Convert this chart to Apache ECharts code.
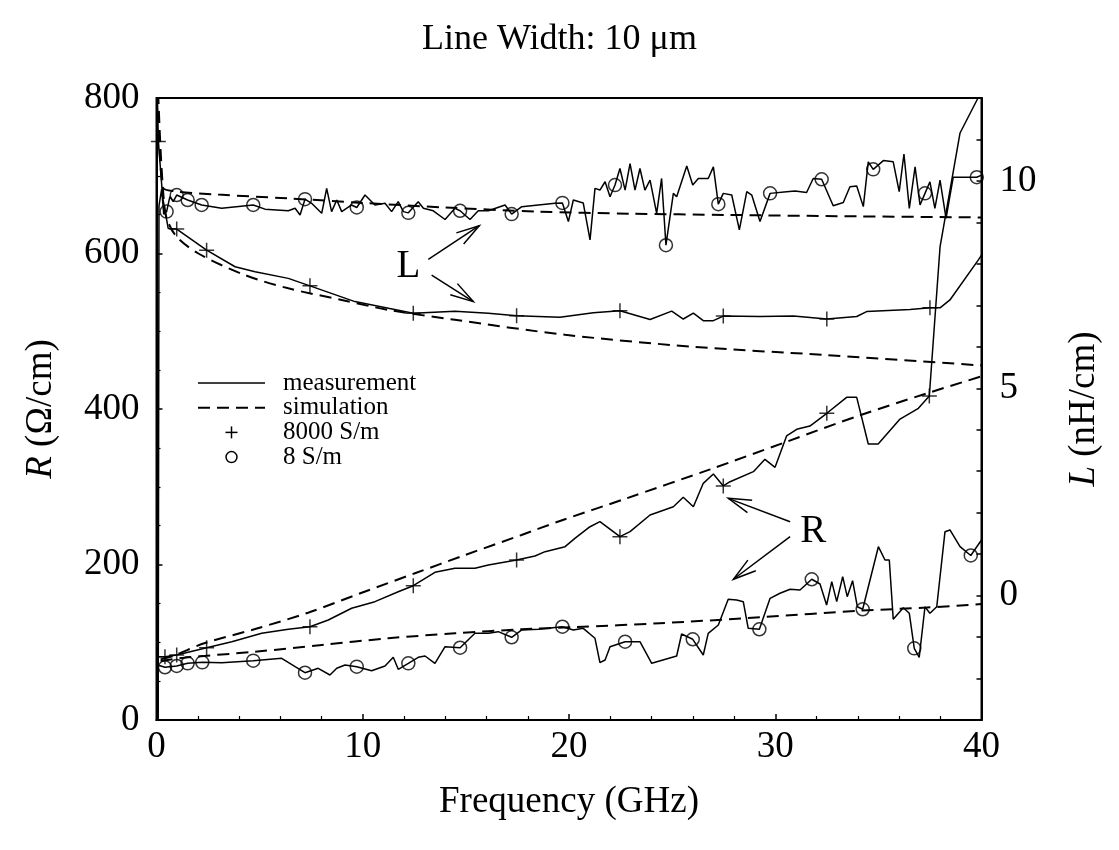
<!DOCTYPE html>
<html><head><meta charset="utf-8">
<script src="https://cdn.jsdelivr.net/npm/echarts@6/dist/echarts.min.js"></script>
<style>html,body{margin:0;padding:0;background:#fff}#c{width:1119px;height:850px}</style>
</head><body><div id="c"></div>
<script>
const titleText = 'Line Width: 10 μm';
const xTickLabels = [0, 10, 20, 30, 40];
const rTickLabels = [0, 200, 400, 600, 800];
const lTickLabels = [0, 5, 10];
const legendNames = ['measurement', 'simulation', '8000 S/m', '8 S/m'];

// L (nH/cm) vs frequency (GHz)
const lMeas8000 = [[0.02,12.6],[0.09,10.95],[0.3,9.6],[0.57,8.85],[0.98,8.84],[2.43,8.33],[3.81,7.93],[4.78,7.81],[6.39,7.65],[7.44,7.47],[9.62,7.09],[11.24,6.93],[12.45,6.81],[14.47,6.86],[16.09,6.81],[17.46,6.75],[19.56,6.71],[21.18,6.82],[22.47,6.87],[23.93,6.66],[24.98,6.86],[25.54,6.67],[26.03,6.81],[26.51,6.63],[27.0,6.63],[27.48,6.74],[29.26,6.73],[30.88,6.74],[32.5,6.67],[33.95,6.73],[34.43,6.85],[36.53,6.90],[37.5,6.94],[37.99,6.94],[38.47,7.13],[39.84,8.09],[40,8.21]];
const lSim8000 = [[0.05,12.6],[0.4,9.3],[0.9,8.70],[2.03,8.25],[4.29,7.73],[6.39,7.41],[8.98,7.13],[11.24,6.89],[14.47,6.65],[19.81,6.29],[26.03,6.00],[32.5,5.80],[40,5.55]];
const lMeas8 = [[0.08,-4],[0.12,9.4],[0.25,9.8],[0.35,9.2],[0.49,9.26],[0.65,9.62],[0.81,9.50],[0.98,9.66],[1.51,9.54],[2.19,9.42],[3.16,9.34],[4.69,9.42],[5.26,9.32],[6.39,9.28],[6.72,9.34],[6.96,9.18],[7.20,9.56],[7.52,9.46],[8.01,9.22],[8.25,9.82],[8.49,9.26],[8.74,9.54],[8.98,9.26],[9.46,9.42],[9.71,9.36],[10.11,9.66],[10.59,9.42],[11.08,9.46],[11.40,9.26],[11.72,9.50],[11.97,9.26],[12.21,9.23],[12.69,9.50],[12.94,9.34],[13.42,9.28],[13.99,9.07],[14.47,9.34],[14.72,9.28],[15.20,9.07],[15.60,9.28],[16.09,9.28],[16.90,9.42],[17.22,9.20],[17.71,9.38],[19.32,9.46],[19.68,9.47],[19.97,9.02],[20.21,9.54],[20.69,9.47],[21.02,8.58],[21.26,9.82],[21.50,9.78],[21.75,9.98],[21.99,9.62],[22.23,9.90],[22.47,10.30],[22.72,9.78],[22.96,10.42],[23.20,9.78],[23.44,10.30],[23.68,9.78],[23.93,10.02],[24.25,9.22],[24.49,10.06],[24.70,8.45],[25.06,9.70],[25.22,9.62],[25.71,10.36],[26.00,9.90],[26.27,10.06],[26.75,10.06],[27.00,10.34],[27.24,9.44],[27.48,9.70],[27.89,9.66],[28.26,8.82],[28.62,9.74],[28.86,9.66],[29.26,9.02],[29.75,9.70],[30.55,9.74],[30.96,9.76],[31.52,9.72],[31.84,10.06],[32.25,10.04],[32.81,9.40],[33.30,9.48],[33.62,9.86],[33.95,9.88],[34.27,9.38],[34.51,10.46],[34.75,10.28],[35.24,10.49],[35.72,10.46],[36.01,9.74],[36.24,10.65],[36.50,9.34],[36.78,10.34],[37.02,9.42],[37.26,9.70],[37.50,9.98],[37.74,9.34],[37.99,10.02],[38.28,9.10],[38.63,10.09],[39.20,10.09],[39.77,10.09],[40.0,10.14]];
const lSim8 = [[0.05,12.6],[0.3,9.85],[0.9,9.75],[3,9.67],[6.39,9.58],[10,9.47],[14,9.36],[18.51,9.26],[23,9.21],[27.65,9.18],[33,9.15],[40,9.12]];

// R (Ohm/cm) vs frequency (GHz)
const rMeas8000 = [[0.05,81.4],[0.41,81.4],[0.98,83.6],[2.43,93.0],[3.65,100.7],[5.10,111.5],[6.39,116.7],[7.44,120.0],[8.33,128.6],[9.46,143.7],[10.59,152.2],[11.72,165.0],[12.45,172.7],[13.50,190.0],[14.47,195.1],[15.44,195.1],[16.09,199.4],[17.46,205.8],[18.35,210.9],[18.84,216.5],[19.81,222.9],[20.3,234],[21.02,248.6],[21.5,255.1],[22.47,235.8],[22.96,242.2],[23.93,263.7],[25.06,274.3],[25.54,286.4],[26.03,274.3],[26.51,304.4],[27.0,316.4],[27.48,301.0],[27.81,306.5],[28.94,319.4],[29.50,335.3],[29.99,325.0],[30.55,365.3],[31.04,373.9],[31.68,378.1],[32.50,394.5],[33.46,415.0],[33.95,415.0],[34.51,355.0],[34.99,355.0],[36.05,387.1],[36.94,400.9],[37.47,416.7],[37.99,608.4],[38.96,755],[39.83,800],[40,815]];
const rSim8000 = [[0.2,78],[0.90,83.6],[2.35,99],[4.78,117],[7.35,138],[9.95,163.7],[12.53,188.7],[14.96,212.2],[17.70,238],[19.56,256],[22.79,285.1],[26.84,322.4],[30.55,357.9],[34.11,392],[37.34,420],[40,442]];
const rMeas8 = [[0.05,70.7],[0.41,67.8],[0.98,69.5],[1.51,72.9],[2.22,74.2],[3.16,73.7],[4.69,76.3],[6.07,79.4],[6.72,68.6],[7.20,60.8],[7.84,66.5],[8.41,57.9],[8.74,66.5],[9.14,70.7],[9.71,68.6],[10.43,63.4],[11.08,69.5],[11.48,80.6],[11.72,65.2],[12.21,72.9],[12.69,80.6],[13.02,82.3],[13.50,72.9],[13.99,94.3],[14.72,93.0],[15.44,111.5],[16.09,111.5],[16.57,113.6],[17.22,106.4],[17.71,115.8],[18.51,116.7],[19.68,120.0],[20.21,115.8],[20.69,117.9],[21.26,105.1],[21.50,73.7],[21.75,77.2],[21.99,94.3],[22.72,100.7],[23.44,100.7],[24.01,72.9],[25.22,82.3],[25.46,110.6],[26.00,103.8],[26.51,83.6],[26.75,111.5],[27.24,122.2],[27.72,155.2],[28.13,154.3],[28.45,152.2],[28.69,117.9],[29.23,116.7],[29.75,156.5],[30.23,163.0],[30.72,168.1],[31.20,167.2],[31.77,181.0],[32.17,174.9],[32.49,147.9],[32.74,177.9],[32.98,152.2],[33.27,184.3],[33.49,158.6],[33.75,179.2],[33.98,145.7],[34.24,142.4],[35.00,222.9],[35.32,205.8],[35.53,205.8],[35.72,129.5],[36.21,144.4],[36.50,137.2],[36.74,92.2],[36.98,80.6],[37.26,145.7],[37.50,137.2],[37.83,145.7],[38.23,242.2],[38.47,244.4],[38.96,222.9],[39.48,211.6],[40.0,231.5]];
const rSim8 = [[0.2,76],[1.54,80.6],[4.78,87.8],[8.02,96.5],[11.24,105.1],[14.47,111.5],[17.70,116.7],[20.29,119.5],[24.41,124.4],[29.26,132.1],[34.11,140.6],[37.34,144.6],[40,149.2]];

// marker positions (on the measured curves)
const lMark8000 = [[0.09,10.95],[0.98,8.84],[2.43,8.33],[7.44,7.47],[12.45,6.81],[17.46,6.75],[22.47,6.87],[27.48,6.74],[32.5,6.67],[37.5,6.94]];
const rMark8000 = [[0.41,81.4],[0.98,83.6],[2.43,93.0],[7.44,120.0],[12.45,172.7],[17.46,205.8],[22.47,235.8],[27.48,301.0],[32.50,394.5],[37.47,416.7]];
const lMark8 = [[0.49,9.26],[0.98,9.66],[1.51,9.54],[2.19,9.42],[4.69,9.42],[7.20,9.56],[9.71,9.36],[12.21,9.23],[14.72,9.28],[17.22,9.20],[19.68,9.47],[22.23,9.90],[24.70,8.45],[27.24,9.44],[29.75,9.70],[32.25,10.04],[34.75,10.28],[37.26,9.70],[39.77,10.09]];
const rMark8 = [[0.41,67.8],[0.98,69.5],[1.51,72.9],[2.22,74.2],[4.69,76.3],[7.20,60.8],[9.71,68.6],[12.21,72.9],[14.72,93.0],[17.22,106.4],[19.68,120.0],[22.72,100.7],[26.00,103.8],[29.23,116.7],[31.77,181.0],[34.24,142.4],[36.74,92.2],[39.48,211.6]];

// annotation anchors (data coordinates)
const annL = {text: 'L', at: [12.21, 7.93], arrows: [[[13.18, 8.11], [15.65, 8.92]], [[13.34, 7.73], [15.36, 7.09]]]};
const annR = {text: 'R', at: [31.84, 242.2], arrows: [[[30.72, 255.0], [27.72, 285.1]], [[30.72, 235.8], [27.97, 181.0]]]};

const FONT = 'Liberation Serif';
const PLUS = 'path://M0,-1L0,1M-1,0L1,0';
const chart = echarts.init(document.getElementById('c'), null, {renderer: 'canvas'});

function measLine(data, yi) {
  return {type: 'line', name: legendNames[0], data: data, yAxisIndex: yi, symbol: 'none', showSymbol: false,
    lineStyle: {color: '#000', width: 1.5}, clip: true, z: 3};
}
function simLine(data, yi) {
  return {type: 'line', name: legendNames[1], data: data, yAxisIndex: yi, symbol: 'none', showSymbol: false, smooth: 0.3,
    lineStyle: {color: '#000', width: 2, type: [12, 7]}, clip: true, z: 2};
}
function plusMarks(data, yi) {
  return {type: 'scatter', name: legendNames[2], data: data, yAxisIndex: yi, symbol: PLUS, symbolSize: 15,
    itemStyle: {color: 'none', borderColor: '#000', borderWidth: 1.5}, z: 4};
}
function circMarks(data, yi) {
  return {type: 'scatter', name: legendNames[3], data: data, yAxisIndex: yi, symbol: 'circle', symbolSize: 13,
    itemStyle: {color: 'rgba(0,0,0,0)', borderColor: '#000', borderWidth: 1.5}, z: 4};
}

const FS = 37;
const axisText = {color: '#000', fontFamily: FONT, fontSize: FS};
const option = {
  animation: false,
  backgroundColor: '#fff',
  title: {text: titleText, left: 'center', top: 17, textStyle: {fontFamily: FONT, fontSize: 36, fontWeight: 'normal', color: '#000'}},
  grid: {left: 156.5, right: 137.5, top: 98, bottom: 130, show: true, borderColor: '#000', borderWidth: 2, backgroundColor: 'transparent'},
  xAxis: {
    type: 'value', min: xTickLabels[0], max: xTickLabels[xTickLabels.length - 1], interval: 10,
    name: 'Frequency (GHz)', nameLocation: 'middle', nameGap: 64, nameTextStyle: axisText,
    axisLine: {show: true, lineStyle: {color: '#000', width: 2}},
    axisTick: {show: true, inside: true, length: 6, lineStyle: {color: '#000', width: 1.5}},
    minorTick: {show: true, splitNumber: 5, length: 4, lineStyle: {color: '#000', width: 1.2}},
    axisLabel: Object.assign({margin: 9, formatter: v => xTickLabels.includes(v) ? String(v) : ''}, axisText),
    splitLine: {show: false}
  },
  yAxis: [{
    type: 'value', min: rTickLabels[0], max: rTickLabels[rTickLabels.length - 1], interval: 200, position: 'left',
    name: '{i|R} (Ω/cm)', nameLocation: 'middle', nameGap: 97, nameRotate: 90,
    nameTextStyle: Object.assign({rich: {i: {fontFamily: FONT, fontSize: FS, fontStyle: 'italic', color: '#000'}}}, axisText),
    axisLine: {show: true, lineStyle: {color: '#000', width: 2}},
    axisTick: {show: true, inside: true, length: 6, lineStyle: {color: '#000', width: 1.5}},
    minorTick: {show: true, splitNumber: 4, length: 4, lineStyle: {color: '#000', width: 1.2}},
    axisLabel: Object.assign({margin: 17, formatter: v => rTickLabels.includes(v) ? String(v) : ''}, axisText),
    splitLine: {show: false}
  }, {
    type: 'value', min: -3, max: 12, interval: 1, position: 'right',
    name: '{i|L} (nH/cm)', nameLocation: 'middle', nameGap: 84, nameRotate: 90,
    nameTextStyle: Object.assign({rich: {i: {fontFamily: FONT, fontSize: FS, fontStyle: 'italic', color: '#000'}}}, axisText),
    axisLine: {show: true, lineStyle: {color: '#000', width: 2}},
    axisTick: {show: true, inside: true, length: 5, lineStyle: {color: '#000', width: 1.5}},
    axisLabel: Object.assign({margin: 18, formatter: v => lTickLabels.includes(v) ? String(v) : ''}, axisText),
    splitLine: {show: false}
  }],
  series: [
    simLine(lSim8, 1), simLine(lSim8000, 1), simLine(rSim8000, 0), simLine(rSim8, 0),
    measLine(lMeas8, 1), measLine(lMeas8000, 1), measLine(rMeas8000, 0), measLine(rMeas8, 0),
    plusMarks(lMark8000, 1), plusMarks(rMark8000, 0), circMarks(lMark8, 1), circMarks(rMark8, 0)
  ]
};
chart.setOption(option);

// annotations and legend (graphic elements anchored via the axes)
const px = (p, yi) => chart.convertToPixel({xAxisIndex: 0, yAxisIndex: yi}, p);
const els = [];
function addArrow(from, to, yi) {
  const a = px(from, yi), b = px(to, yi);
  const ang = Math.atan2(a[1] - b[1], a[0] - b[0]);
  const len = 24, w = 16 * Math.PI / 180;
  const w1 = [b[0] + len * Math.cos(ang + w), b[1] + len * Math.sin(ang + w)];
  const w2 = [b[0] + len * Math.cos(ang - w), b[1] + len * Math.sin(ang - w)];
  els.push({type: 'line', shape: {x1: a[0], y1: a[1], x2: b[0], y2: b[1]}, style: {stroke: '#000', lineWidth: 1.5}, z: 10});
  els.push({type: 'polyline', shape: {points: [w1, b, w2]}, style: {stroke: '#000', fill: null, lineWidth: 1.5}, z: 10});
}
function addAnn(ann, yi) {
  const p = px(ann.at, yi);
  els.push({type: 'text', x: p[0], y: p[1], style: {text: ann.text, fill: '#000', font: '39px "' + FONT + '"', textAlign: 'center', textVerticalAlign: 'middle'}, z: 10});
  ann.arrows.forEach(ar => addArrow(ar[0], ar[1], yi));
}
addAnn(annL, 1);
addAnn(annR, 0);

// legend
const lgX = 198, lgY = 383, lgDy = 24.7, lgW = 67, lgTx = 283;
els.push({type: 'line', shape: {x1: lgX, y1: lgY, x2: lgX + lgW, y2: lgY}, style: {stroke: '#000', lineWidth: 1.5}});
els.push({type: 'line', shape: {x1: lgX, y1: lgY + lgDy, x2: lgX + lgW, y2: lgY + lgDy}, style: {stroke: '#000', lineWidth: 2, lineDash: [12, 7]}});
const cx = lgX + lgW / 2;
els.push({type: 'line', shape: {x1: cx - 6, y1: lgY + 2 * lgDy, x2: cx + 6, y2: lgY + 2 * lgDy}, style: {stroke: '#000', lineWidth: 1.5}});
els.push({type: 'line', shape: {x1: cx, y1: lgY + 2 * lgDy - 6, x2: cx, y2: lgY + 2 * lgDy + 6}, style: {stroke: '#000', lineWidth: 1.5}});
els.push({type: 'circle', shape: {cx: cx, cy: lgY + 3 * lgDy, r: 5.5}, style: {stroke: '#000', fill: null, lineWidth: 1.5}});
legendNames.forEach((n, i) => {
  els.push({type: 'text', x: lgTx, y: lgY + i * lgDy, style: {text: n, fill: '#000', font: '25px "' + FONT + '"', textAlign: 'left', textVerticalAlign: 'middle'}});
});
chart.setOption({graphic: {elements: els}});
</script></body></html>
